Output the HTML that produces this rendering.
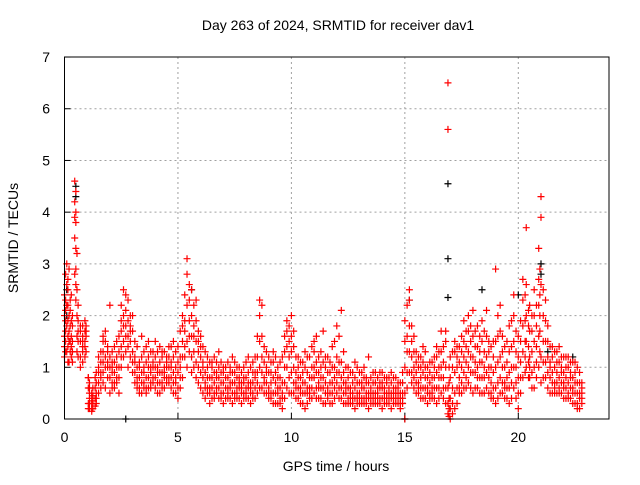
<!DOCTYPE html>
<html><head><meta charset="utf-8"><style>
body{margin:0;background:#fff;width:640px;height:480px;overflow:hidden}
svg text{font-family:"Liberation Sans",sans-serif;font-size:14px;fill:#000}
</style></head><body>
<svg id="c" width="640" height="480" xmlns="http://www.w3.org/2000/svg">
<text x="338" y="30" text-anchor="middle">Day 263 of 2024, SRMTID for receiver dav1</text>
<text x="336" y="471" text-anchor="middle">GPS time / hours</text>
<text transform="translate(18,238) rotate(-90)" text-anchor="middle">SRMTID / TECUs</text>
<g id="grid"></g>
<g id="ticks"></g>
<g id="black"></g>
<g id="red"></g>
<rect x="64.5" y="57" width="544.5" height="362" fill="none" stroke="#000" stroke-width="1"/>
</svg>
<script>
const xTicks=[0,5,10,15,20];
const yTicks=[0,1,2,3,4,5,6,7];
// rows: [hour, value, value, ...]
const redRows=[
[0.0,1.2,1.6,2.0,2.4,1.4],[0.1,1.8,2.6,3.0,1.3,2.2],[0.2,1.5,2.0,2.9,1.7,1.1],[0.3,1.2,1.9,1.6,1.4,2.4],
[0.45,3.5,3.9,4.2,4.6,2.8],[0.55,2.5,3.2,2.0,1.6,1.3],[0.7,1.2,1.8,1.5,1.0,1.7],[0.9,1.4,1.7,1.2,1.9,1.5],
[1.05,0.8,0.6,0.3,0.2,0.8],[1.2,0.2,0.4,0.3,0.5,0.15],[1.4,0.3,0.5,0.7,0.9,0.4],[1.6,0.8,1.1,0.6,1.3,0.9],
[1.8,0.6,1.0,1.5,1.7,1.2],[2.0,0.5,0.8,1.2,2.2,1.0],[2.2,0.6,0.9,1.4,1.1,0.7],[2.4,0.8,1.0,1.6,1.3,0.5],
[2.6,1.2,1.5,2.0,2.5,1.8],[2.8,1.0,1.4,1.9,2.3,1.6],[3.0,0.9,1.3,1.7,2.0,1.1],[3.2,0.6,0.8,1.0,1.4,0.7],
[3.4,0.5,0.7,0.9,1.2,1.6],[3.6,0.6,0.8,1.1,1.4,0.5],[3.8,0.7,1.0,1.3,0.9,0.6],[4.0,0.6,0.8,1.2,1.5,1.0],
[4.2,0.5,0.9,1.1,1.4,0.7],[4.4,0.6,0.8,1.0,1.3,0.9],[4.6,0.7,1.0,1.2,1.4,0.8],[4.8,0.5,0.7,0.9,1.2,1.5],
[5.0,0.4,0.6,0.9,1.1,1.4],[5.2,0.8,1.2,1.5,1.8,2.0],[5.4,1.0,1.5,2.2,2.8,3.1],[5.6,1.2,1.6,2.0,2.5,0.9],
[5.8,0.8,1.1,1.5,1.9,2.3],[6.0,0.6,0.9,1.2,1.6,1.4],[6.2,0.4,0.7,0.9,1.3,0.6],[6.4,0.3,0.6,0.8,1.1,0.5],
[6.6,0.5,0.7,0.9,1.2,0.4],[6.8,0.4,0.6,0.8,1.0,1.3],[7.0,0.3,0.5,0.7,1.0,0.9],[7.2,0.4,0.6,0.8,1.1,0.5],
[7.4,0.3,0.5,0.7,0.9,1.2],[7.6,0.4,0.6,0.8,1.0,0.5],[7.8,0.3,0.5,0.7,0.9,0.6],[8.0,0.4,0.6,0.8,1.1,0.5],
[8.2,0.3,0.5,0.7,1.0,0.6],[8.4,0.4,0.6,0.9,1.2,0.8],[8.6,0.6,1.0,1.5,2.0,2.3],[8.8,0.5,0.8,1.1,1.4,0.7],
[9.0,0.4,0.6,0.9,1.2,0.5],[9.2,0.3,0.5,0.8,1.1,1.3],[9.4,0.3,0.6,0.8,1.0,0.5],[9.6,0.2,0.4,0.7,1.2,0.5],
[9.8,0.6,1.0,1.4,1.7,1.9],[10.0,0.5,0.9,1.3,1.6,2.0],[10.2,0.4,0.6,0.9,1.2,0.7],[10.4,0.3,0.5,0.8,1.1,0.6],
[10.6,0.2,0.5,0.7,1.0,1.3],[10.8,0.4,0.6,0.8,1.2,0.5],[11.0,0.5,0.8,1.0,1.3,1.5],[11.2,0.4,0.6,0.9,1.2,0.7],
[11.4,0.3,0.6,0.8,1.1,1.7],[11.6,0.4,0.6,0.9,1.2,0.5],[11.8,0.3,0.5,0.7,1.0,1.4],[12.0,0.5,0.7,0.9,1.2,1.8],
[12.2,0.4,0.6,0.8,1.1,2.1],[12.4,0.3,0.5,0.7,1.0,0.6],[12.6,0.3,0.4,0.6,0.9,0.5],[12.8,0.2,0.4,0.6,0.8,1.1],
[13.0,0.3,0.5,0.7,0.9,0.4],[13.2,0.3,0.4,0.6,0.8,1.0],[13.4,0.2,0.4,0.5,0.7,1.2],[13.6,0.3,0.5,0.7,0.9,0.4],
[13.8,0.3,0.4,0.6,0.8,0.5],[14.0,0.2,0.4,0.6,0.9,0.7],[14.2,0.3,0.5,0.7,0.8,0.4],[14.4,0.2,0.4,0.5,0.7,0.9],
[14.6,0.3,0.4,0.6,0.8,0.5],[14.8,0.2,0.4,0.5,0.7,0.3],[15.0,0.0,0.5,1.0,1.5,1.9],[15.2,1.3,1.8,2.3,2.5,0.9],
[15.4,0.6,0.8,1.0,1.3,1.6],[15.6,0.5,0.7,1.0,1.2,0.6],[15.8,0.4,0.6,0.9,1.1,1.4],[16.0,0.3,0.5,0.8,1.0,0.6],
[16.2,0.4,0.6,0.8,1.1,0.5],[16.4,0.3,0.6,0.9,1.2,1.4],[16.6,0.5,0.8,1.0,1.3,1.7],[16.8,0.3,0.6,1.0,1.5,1.7],
[16.9,6.5,5.6,0.1,0.3,0.6],[17.0,0.0,0.2,0.4,0.8,1.2],[17.2,0.2,0.5,0.9,1.3,1.5],[17.4,0.5,0.8,1.1,1.4,0.6],
[17.6,0.6,0.9,1.2,1.5,1.9],[17.8,0.7,1.0,1.3,1.7,2.0],[18.0,0.5,0.9,1.2,1.6,2.1],[18.2,0.6,1.0,1.4,1.8,0.8],
[18.4,0.5,0.8,1.1,1.5,1.9],[18.6,0.6,0.9,1.2,1.6,2.1],[18.8,0.4,0.7,1.0,1.4,0.5],[19.0,0.3,0.6,1.0,1.5,2.9],
[19.2,0.5,0.8,1.2,1.7,2.2],[19.4,0.4,0.7,1.0,1.4,0.6],[19.6,0.3,0.6,0.9,1.3,1.8],[19.8,0.6,1.0,1.5,2.0,2.4],
[20.0,0.2,0.5,0.8,1.2,1.6],[20.2,0.8,1.3,1.8,2.3,2.7],[20.35,1.0,1.5,2.0,2.6,3.7],[20.5,0.8,1.2,1.7,2.2,1.0],
[20.7,0.6,1.0,1.5,2.0,2.5],[20.9,1.0,1.6,2.2,2.7,3.3],[21.0,3.9,4.3,2.6,1.2,0.7],[21.2,0.8,1.1,1.5,1.9,2.3],
[21.4,0.5,0.8,1.1,1.4,1.0],[21.6,0.5,0.7,1.0,1.3,0.6],[21.8,0.6,0.8,1.1,1.4,0.5],[22.0,0.4,0.7,0.9,1.2,0.6],
[22.2,0.5,0.7,1.0,1.2,0.4],[22.4,0.3,0.6,0.8,1.1,0.5],[22.6,0.3,0.5,0.7,1.0,0.2],[22.8,0.3,0.5,0.7,0.4,0.6]
];
// additional red samples between the main rows (dense regions)
const redRowsExtra=[
[0.05,1.3,1.5,1.7,1.9,2.1,2.3,2.8],[0.15,1.1,1.4,1.6,1.9,2.2,2.5,2.7],[0.25,1.3,1.5,1.8,2.1,2.3],[0.35,1.1,1.3,1.5,1.8,2.0],
[0.5,4.4,4.0,3.8,3.3,2.9,2.6,2.3],[0.6,2.2,1.9,1.7,1.5,1.2],[0.8,1.1,1.3,1.5,1.6,1.8,1.4],[0.95,1.6,1.3,1.7,1.8],
[1.1,0.2,0.3,0.4,0.5,0.6,0.7],[1.25,0.2,0.3,0.35,0.45,0.6],[1.35,0.25,0.4,0.6,0.8],[1.5,0.5,0.7,0.9,1.0,1.2],
[1.7,0.7,0.9,1.1,1.3,1.5,1.6],[1.9,0.8,1.0,1.1,1.3,1.4],[2.1,0.6,0.7,0.9,1.0,1.1,1.3],[2.3,0.7,0.8,1.0,1.2,1.5],
[2.5,1.0,1.2,1.4,1.7,1.9,2.2],[2.7,1.3,1.6,1.8,2.1,2.4],[2.9,1.2,1.5,1.7,1.8,2.0],[3.1,0.7,0.9,1.1,1.2,1.5],
[3.3,0.5,0.6,0.8,1.0,1.1],[3.5,0.6,0.7,0.9,1.0,1.3],[3.7,0.6,0.8,1.0,1.2,1.5],[3.9,0.7,0.8,1.0,1.1,1.3],
[4.1,0.5,0.7,0.9,1.0,1.3],[4.3,0.6,0.7,0.9,1.2,1.3],[4.5,0.7,0.8,1.0,1.1,1.2],[4.7,0.6,0.8,1.0,1.1,1.4],
[4.9,0.5,0.7,0.8,1.0,1.3],[5.1,0.6,0.8,1.0,1.2,1.7],[5.3,1.2,1.4,1.7,1.9,2.4],[5.5,1.3,1.6,1.9,2.3,2.6],
[5.7,1.0,1.3,1.6,1.8,2.2],[5.9,0.7,1.0,1.3,1.5,1.7],[6.1,0.5,0.8,1.0,1.1,1.4],[6.3,0.5,0.6,0.8,1.0,1.2],
[6.5,0.4,0.6,0.8,1.0,1.1],[6.7,0.5,0.6,0.8,0.9,1.1],[6.9,0.4,0.5,0.7,0.9,1.1],[7.1,0.4,0.6,0.8,1.0],
[7.3,0.4,0.6,0.7,0.9,1.0],[7.5,0.4,0.5,0.7,0.9,1.1],[7.7,0.4,0.6,0.7,0.8,1.0],[7.9,0.4,0.5,0.7,0.8,1.0],
[8.1,0.4,0.6,0.7,0.9,1.2],[8.3,0.4,0.5,0.7,0.9,1.1],[8.5,0.5,0.7,0.9,1.2,1.6],[8.7,0.6,0.9,1.2,1.6,2.2],
[8.9,0.5,0.7,0.9,1.0,1.3],[9.1,0.4,0.5,0.7,0.9,1.1],[9.3,0.3,0.5,0.7,0.9,1.2],[9.5,0.3,0.4,0.6,0.8,1.1],
[9.7,0.4,0.7,1.0,1.3,1.6],[9.9,0.5,0.8,1.2,1.5,1.8],[10.1,0.5,0.7,1.0,1.4,1.7],[10.3,0.4,0.6,0.8,1.0,1.2],
[10.5,0.3,0.5,0.7,0.9,1.1],[10.7,0.3,0.5,0.6,0.9,1.2],[10.9,0.4,0.6,0.8,1.0,1.4],[11.1,0.4,0.6,0.9,1.1,1.6],
[11.3,0.4,0.6,0.8,1.0,1.3],[11.5,0.3,0.5,0.7,1.0,1.2],[11.7,0.3,0.5,0.7,0.9,1.1],[11.9,0.4,0.6,0.8,1.0,1.5],
[12.1,0.4,0.6,0.9,1.1,1.6],[12.3,0.3,0.5,0.7,0.9,1.3],[12.5,0.3,0.4,0.6,0.8,1.0],[12.7,0.3,0.4,0.5,0.7,0.9],
[12.9,0.3,0.4,0.5,0.7,1.0],[13.1,0.3,0.4,0.6,0.7,0.9],[13.3,0.3,0.4,0.5,0.7,0.8],[13.5,0.3,0.4,0.5,0.6,0.8],
[13.7,0.3,0.4,0.5,0.7,0.9],[13.9,0.3,0.4,0.6,0.7,0.9],[14.1,0.3,0.4,0.5,0.6,0.8],[14.3,0.3,0.4,0.5,0.6,0.8],
[14.5,0.3,0.4,0.5,0.6,0.8],[14.7,0.3,0.4,0.5,0.6,0.7],[14.9,0.3,0.4,0.5,0.7,0.9],[15.1,0.6,0.9,1.3,1.6,2.2],
[15.3,0.7,0.9,1.2,1.5,1.8],[15.5,0.5,0.7,0.9,1.1,1.3],[15.7,0.4,0.6,0.8,1.0,1.2],[15.9,0.4,0.6,0.8,1.0,1.3],
[16.1,0.4,0.5,0.7,0.9,1.1],[16.3,0.4,0.6,0.8,1.0,1.2],[16.5,0.4,0.6,0.8,1.0,1.3],[16.7,0.4,0.6,0.8,1.1,1.4],
[16.95,0.05,0.2,0.4,0.7,1.0],[17.1,0.1,0.3,0.6,1.0,1.3],[17.3,0.3,0.6,1.0,1.2,1.4],[17.5,0.5,0.7,1.0,1.3,1.6],
[17.7,0.6,0.8,1.1,1.4,1.7],[17.9,0.6,0.9,1.2,1.5,1.8],[18.1,0.6,0.9,1.1,1.4,1.7],[18.3,0.5,0.8,1.1,1.3,1.6],
[18.5,0.5,0.8,1.0,1.3,1.7],[18.7,0.5,0.8,1.0,1.3,1.5],[18.9,0.4,0.6,0.9,1.2,1.5],[19.1,0.4,0.7,1.1,1.6,2.0],
[19.3,0.5,0.7,1.0,1.3,1.6],[19.5,0.4,0.6,0.8,1.1,1.5],[19.7,0.4,0.7,1.0,1.4,1.9],[19.9,0.4,0.7,1.0,1.3,1.7],
[20.1,0.5,0.8,1.1,1.5,1.9],[20.3,0.9,1.2,1.5,1.9,2.4],[20.45,0.8,1.1,1.4,1.8,2.1],[20.6,0.6,0.9,1.3,1.7,2.0],
[20.8,0.8,1.1,1.4,1.8,2.2],[20.95,1.3,1.7,2.0,2.4,2.9],[21.1,0.8,1.1,1.5,2.0,2.5],[21.3,0.6,0.9,1.2,1.5,1.8],
[21.5,0.5,0.7,0.9,1.2,1.4],[21.7,0.5,0.7,0.9,1.1,1.3],[21.9,0.5,0.7,0.9,1.0,1.2],[22.1,0.4,0.6,0.8,1.0,1.2],
[22.3,0.4,0.6,0.8,0.9,1.1],[22.5,0.3,0.5,0.7,0.9,1.1],[22.7,0.2,0.4,0.5,0.7,0.9]
];
const blackRows=[
[0.1,2.5,2.0],[0.5,4.5,4.3],[2.7,0.0],[5.6,2.5],[15.0,0.0],[15.2,2.3],[16.9,4.55,3.1,2.35],[18.4,2.5],[20.0,2.4],[21.0,3.0,2.8],[21.3,1.3],[22.4,1.2]
];
const X=h=>64.5+h*22.69, Y=v=>419-v*51.71;
const NS="http://www.w3.org/2000/svg";
function mk(tag,attrs,parent){const e=document.createElementNS(NS,tag);for(const k in attrs)e.setAttribute(k,attrs[k]);parent.appendChild(e);return e;}
const grid=document.getElementById('grid'),ticks=document.getElementById('ticks'),svg=document.getElementById('c');
xTicks.forEach(t=>{
  const x=X(t);
  if(t>0){const g=mk('line',{x1:x,x2:x,y1:57,y2:419,stroke:'#a0a0a0','stroke-dasharray':'2,3'},grid);
  
  }
  const tk=mk('line',{x1:x,x2:x,y1:419,y2:413,stroke:'#000'},ticks);
  
  
  const tx=mk('text',{x:x,y:442,'text-anchor':'middle'},svg);tx.textContent=t;
  
  
});
yTicks.forEach(t=>{
  const y=Y(t);
  if(t>0&&t<7){const g=mk('line',{x1:64.5,x2:609,y1:y,y2:y,stroke:'#a0a0a0','stroke-dasharray':'2,3'},grid);
  
  }
  const tk=mk('line',{x1:64.5,x2:70.5,y1:y,y2:y,stroke:'#000'},ticks);
  
  
  const tx=mk('text',{x:50,y:y+5,'text-anchor':'end'},svg);tx.textContent=t;
  
  
});
function plot(rows,g,color,name){
  rows.forEach(r=>{const x=X(r[0]);for(let i=1;i<r.length;i++){const y=Y(r[i]);
    const p=mk('path',{d:`M${x-3.5},${y}h7M${x},${y-3.5}v7`,stroke:color,'stroke-width':1.2,fill:'none'},g);
    
    }});
}
plot(blackRows,document.getElementById('black'),'#000','black-point');
plot(redRows,document.getElementById('red'),'#ff0000','red-point');
plot(redRowsExtra,document.getElementById('red'),'#ff0000','red-point');
</script>
</body></html>
